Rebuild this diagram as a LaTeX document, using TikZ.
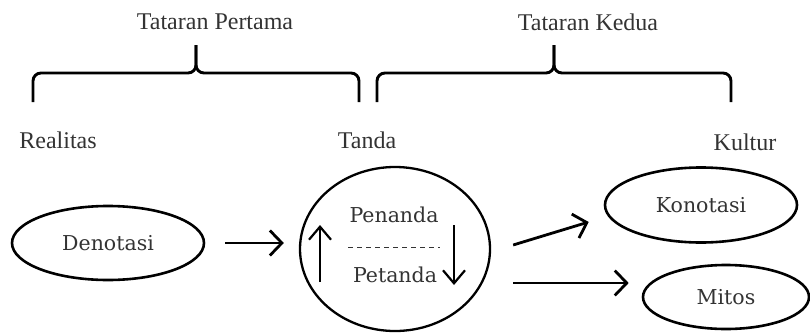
\documentclass[tikz,border=0pt]{standalone}
\usepackage{fontspec}
\setmainfont{Liberation Serif}
\newfontfamily\labelfont{DejaVu Serif}
\usetikzlibrary{shapes.geometric,arrows.meta}
\definecolor{txtgray}{HTML}{333333}
\begin{document}
\begin{tikzpicture}[x=1pt,y=1pt,
        toplabel/.style={font=\fontsize{24}{26}\selectfont, text=txtgray},
        botlabel/.style={font=\labelfont\fontsize{20.5}{22}\selectfont, text=txtgray},
        oval/.style={draw, ellipse, line width=2.6pt, inner sep=0pt, botlabel},
        brace/.style={line width=2.9pt, rounded corners=8pt},
        bigarrow/.style={line width=2.8pt, -{Straight Barb[length=12pt,width=25pt,line width=2.8pt]}},
        smallarrow/.style={line width=2.2pt, -{Straight Barb[length=13pt,width=22pt,line width=2.2pt]}}]
    \useasboundingbox (0,0) rectangle (810,333);
    % braces
    \draw[brace] (33,231) -- (33,260) -- (196,260) -- (196,288);
    \draw[brace] (196,288) -- (196,260) -- (359,260) -- (359,231);
    \draw[brace] (377,231) -- (377,260) -- (554,260) -- (554,288);
    \draw[brace] (554,288) -- (554,260) -- (731,260) -- (731,231);
    \node[toplabel] (pertama) at (215,311) {Tataran Pertama};
    \node[toplabel] (kedua) at (588,311) {Tataran Kedua};
    \node[toplabel] (realitas) at (58,193) {Realitas};
    \node[toplabel] (tandalbl) at (367,193) {Tanda};
    \node[toplabel] (kultur) at (745,191) {Kultur};
    % ovals
    \node[oval, minimum width=192pt, minimum height=74pt] (den) at (108,90) {Denotasi};
    \node[draw, ellipse, line width=2.3pt, minimum width=190pt, minimum height=164pt] (tanda) at (395,84) {};
    \node[oval, minimum width=192pt, minimum height=75pt] (kon) at (701,128) {Konotasi};
    \node[oval, minimum width=166pt, minimum height=64pt] (mitos) at (726,36) {Mitos};
    % inside the sign
    \node[botlabel] (penanda) at (394,118) {Penanda};
    \node[botlabel] (petanda) at (395,58) {Petanda};
    \draw[dash pattern=on 5pt off 4pt, line width=0.9pt, txtgray] (348,86) -- (440,86);
    \coordinate (upA) at (320,51);
    \coordinate (upB) at (320,108);
    \coordinate (dnA) at (454,108);
    \coordinate (dnB) at (454,48);
    \draw[smallarrow] (upA) -- (upB);
    \draw[smallarrow] (dnA) -- (dnB);
    % connectors
    \draw[bigarrow] ([xshift=20pt]den.east) -- ([xshift=-15pt,yshift=6pt]tanda.west);
    \draw[bigarrow] ([xshift=22pt,yshift=4pt]tanda.east) -- ([xshift=-15pt,yshift=-17pt]kon.west);
    \draw[bigarrow] ([xshift=22pt,yshift=-34pt]tanda.east) -- ([xshift=-13pt,yshift=14pt]mitos.west);
\end{tikzpicture}
\end{document}
